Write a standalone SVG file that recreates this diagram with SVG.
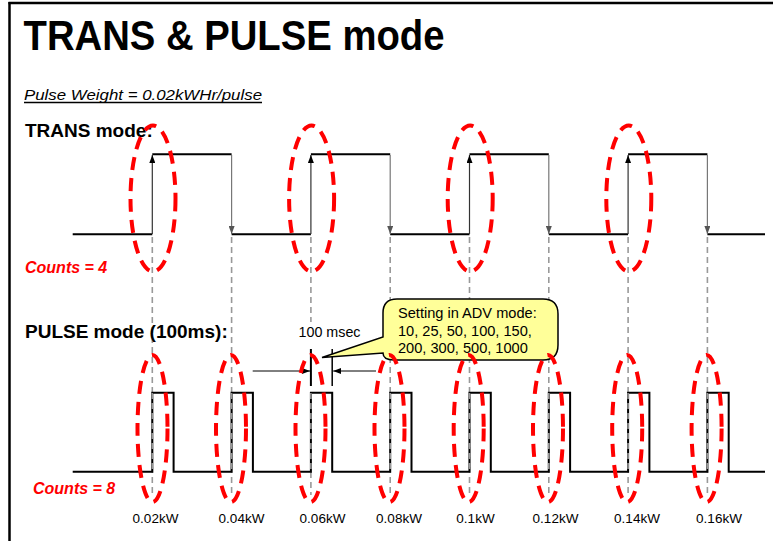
<svg xmlns="http://www.w3.org/2000/svg" width="773" height="541" viewBox="0 0 773 541">
<defs>
<style>
.t{font-family:"Liberation Sans",Arial,sans-serif;fill:#000}
.b{font-weight:bold}
.red{fill:#ff0000;font-weight:bold;font-style:italic;font-size:16px}
.lbl{font-size:13.5px;text-anchor:middle}
.wave{fill:none;stroke:#000;stroke-width:2}
.guide{stroke:#999;stroke-width:1.6;stroke-dasharray:6 4;fill:none}
.ell{fill:none;stroke:#ff0000;stroke-width:4;stroke-dasharray:13 8}
.up{stroke:#333;stroke-width:1.2;marker-end:url(#ahB)}
.dn{stroke:#777;stroke-width:1.2;marker-end:url(#ahG)}
</style>
<marker id="ahB" viewBox="0 0 8 6" refX="8" refY="3" markerWidth="8" markerHeight="6" markerUnits="userSpaceOnUse" orient="auto"><path d="M0,0 L8,3 L0,6 z" fill="#000"/></marker>
<marker id="ahG" viewBox="0 0 8 6" refX="8" refY="3" markerWidth="8" markerHeight="6" markerUnits="userSpaceOnUse" orient="auto"><path d="M0,0 L8,3 L0,6 z" fill="#555"/></marker>
</defs>
<rect width="773" height="541" fill="#fff"/>
<g id="frame" stroke="#000" stroke-width="2.5">
<line x1="8.5" y1="3" x2="773" y2="3"/>
<line x1="9.5" y1="2" x2="9.5" y2="541"/>
</g>
<g id="title">
<text class="t b" x="23.5" y="49.5" font-size="42" textLength="421" lengthAdjust="spacingAndGlyphs">TRANS &amp; PULSE mode</text>
<text class="t" x="24" y="100" font-size="15" font-style="italic" textLength="238" lengthAdjust="spacingAndGlyphs">Pulse Weight = 0.02kWHr/pulse</text>
<line x1="24" y1="102.5" x2="262" y2="102.5" stroke="#000" stroke-width="1.5"/>
</g>
<g id="connectors">
<g id="guides" class="guide">
<line x1="152.3" y1="237" x2="152.3" y2="495"/>
<line x1="231.6" y1="237" x2="231.6" y2="495"/>
<line x1="310.9" y1="237" x2="310.9" y2="322"/>
<line x1="310.9" y1="392" x2="310.9" y2="495"/>
<line x1="390.2" y1="237" x2="390.2" y2="495"/>
<line x1="469.5" y1="237" x2="469.5" y2="495"/>
<line x1="548.8" y1="237" x2="548.8" y2="495"/>
<line x1="628.1" y1="237" x2="628.1" y2="495"/>
<line x1="707.4" y1="237" x2="707.4" y2="495"/>
</g>
</g>
<g id="trans-wave">
<text class="t b" x="25" y="137" font-size="19">TRANS mode:</text>
<path class="wave" d="M72.7,234.3 H152.3 M231.6,234.3 H310.9 M390.2,234.3 H469.5 M548.8,234.3 H628.1 M707.4,234.3 H765 M152.3,154.3 H231.6 M310.9,154.3 H390.2 M469.5,154.3 H548.8 M628.1,154.3 H707.4"/>
<line class="up" x1="152.3" y1="234" x2="152.3" y2="155"/>
<line class="up" x1="310.9" y1="234" x2="310.9" y2="155"/>
<line class="up" x1="469.5" y1="234" x2="469.5" y2="155"/>
<line class="up" x1="628.1" y1="234" x2="628.1" y2="155"/>
<line class="dn" x1="231.6" y1="155" x2="231.6" y2="234"/>
<line class="dn" x1="390.2" y1="155" x2="390.2" y2="234"/>
<line class="dn" x1="548.8" y1="155" x2="548.8" y2="234"/>
<line class="dn" x1="707.4" y1="155" x2="707.4" y2="234"/>
<text class="t red" x="25" y="272.5">Counts = 4</text>
</g>
<g id="trans-marks">
<ellipse class="ell" cx="153" cy="198.5" rx="22.5" ry="73"/>
<ellipse class="ell" cx="311.6" cy="198.5" rx="22.5" ry="73"/>
<ellipse class="ell" cx="470.2" cy="198.5" rx="22.5" ry="73"/>
<ellipse class="ell" cx="628.8" cy="198.5" rx="22.5" ry="73"/>
</g>
<g id="pulse-wave">
<text class="t b" x="25" y="338" font-size="19">PULSE mode (100ms):</text>
<path class="wave" d="M72.7,471.7 H152.3 V392.7 H173.6 V471.7 H231.6 V392.7 H252.9 V471.7 H310.9 V392.7 H332.2 V471.7 H390.2 V392.7 H411.5 V471.7 H469.5 V392.7 H490.8 V471.7 H548.8 V392.7 H570.1 V471.7 H628.1 V392.7 H649.4 V471.7 H707.4 V392.7 H728.7 V471.7 H765"/>
<g class="guide">
<line x1="152.3" y1="393" x2="152.3" y2="471"/>
<line x1="231.6" y1="393" x2="231.6" y2="471"/>
<line x1="310.9" y1="393" x2="310.9" y2="471"/>
<line x1="390.2" y1="393" x2="390.2" y2="471"/>
<line x1="469.5" y1="393" x2="469.5" y2="471"/>
<line x1="548.8" y1="393" x2="548.8" y2="471"/>
<line x1="628.1" y1="393" x2="628.1" y2="471"/>
<line x1="707.4" y1="393" x2="707.4" y2="471"/>
</g>
<text class="t red" x="33" y="494">Counts = 8</text>
</g>
<g id="dimension">
<text class="t" x="298.5" y="336.5" font-size="14.3">100 msec</text>
<line x1="310.9" y1="349" x2="310.9" y2="386" stroke="#000" stroke-width="2"/>
<line x1="332.2" y1="349" x2="332.2" y2="386" stroke="#000" stroke-width="1.5"/>
<line x1="252.7" y1="371" x2="310" y2="371" stroke="#000" stroke-width="1" marker-end="url(#ahB)"/>
<line x1="376" y1="371" x2="333.2" y2="371" stroke="#000" stroke-width="1" marker-end="url(#ahB)"/>
</g>
<g id="callout">
<path d="M397,299 H543 Q558,299 558,314 V345 Q558,360 543,360 H394 Q383,360 383,353 L322,357.5 L383,337 V313 Q383,299 397,299 Z" fill="#ffff99" stroke="#000" stroke-width="1.5"/>
<text class="t" font-size="14.6"><tspan x="398" y="318">Setting in ADV mode:</tspan><tspan x="398" y="335.5">10, 25, 50, 100, 150,</tspan><tspan x="398" y="353">200, 300, 500, 1000</tspan></text>
</g>
<g id="pulse-marks">
<ellipse class="ell" cx="152.5" cy="428.5" rx="15" ry="73.5"/>
<ellipse class="ell" cx="231" cy="428.5" rx="15" ry="73.5"/>
<ellipse class="ell" cx="310.5" cy="428.5" rx="15" ry="73.5"/>
<ellipse class="ell" cx="389.5" cy="428.5" rx="15" ry="73.5"/>
<ellipse class="ell" cx="468.7" cy="428.5" rx="15" ry="73.5"/>
<ellipse class="ell" cx="548" cy="428.5" rx="15" ry="73.5"/>
<ellipse class="ell" cx="627.2" cy="428.5" rx="15" ry="73.5"/>
<ellipse class="ell" cx="706.6" cy="428.5" rx="15" ry="73.5"/>
</g>
<g id="labels">
<text class="t lbl" x="155.5" y="523">0.02kW</text>
<text class="t lbl" x="241.5" y="523">0.04kW</text>
<text class="t lbl" x="322.5" y="523">0.06kW</text>
<text class="t lbl" x="399" y="523">0.08kW</text>
<text class="t lbl" x="475.5" y="523">0.1kW</text>
<text class="t lbl" x="555.5" y="523">0.12kW</text>
<text class="t lbl" x="637" y="523">0.14kW</text>
<text class="t lbl" x="719" y="523">0.16kW</text>
</g>
</svg>
